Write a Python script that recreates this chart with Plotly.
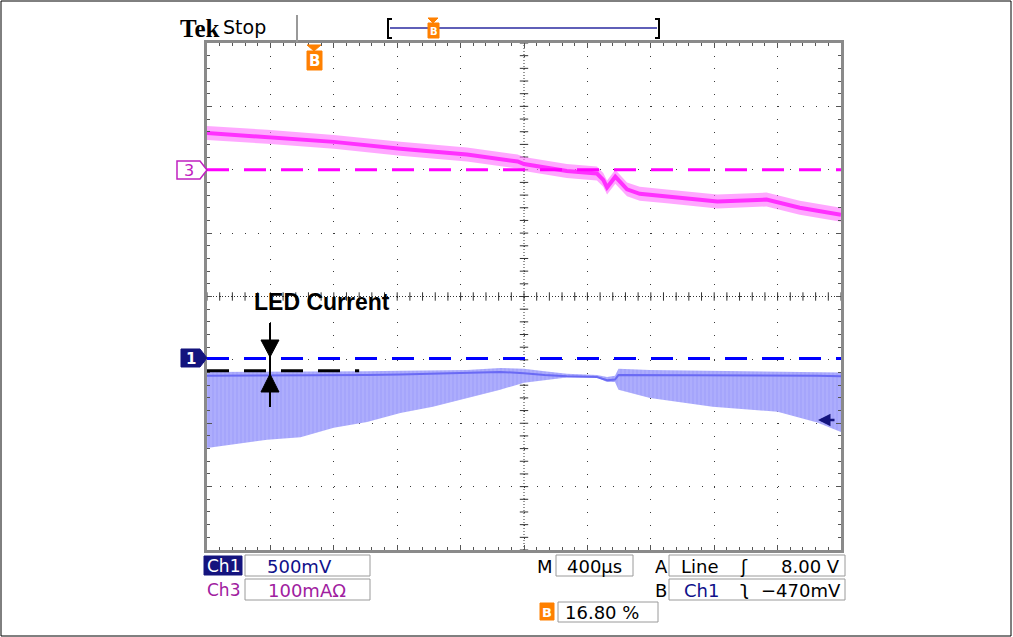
import numpy as np
import plotly.graph_objects as go

# ---------------- data (time in µs, amplitude in divisions) ----------------
ch3_t  = [-2000, -1620, -1200, -780, -360, -40, 0, 270, 460, 500, 524, 576, 650, 730, 900, 1220, 1530, 1740, 2000]
ch3_mid = [2.58, 2.52, 2.44, 2.33, 2.24, 2.13, 2.09, 1.98, 1.94, 1.84, 1.72, 1.89, 1.69, 1.62, 1.58, 1.50, 1.53, 1.40, 1.29]
ch3_hi  = [2.69, 2.63, 2.55, 2.44, 2.35, 2.24, 2.20, 2.09, 2.05, 1.95, 1.83, 2.00, 1.80, 1.73, 1.69, 1.61, 1.64, 1.51, 1.40]
ch3_lo  = [2.47, 2.41, 2.33, 2.22, 2.13, 2.02, 1.98, 1.87, 1.83, 1.73, 1.61, 1.78, 1.58, 1.51, 1.47, 1.39, 1.42, 1.29, 1.18]

ch1_t  = [-2000, -1620, -1410, -1200, -990, -780, -575, -360, -150, 0, 130, 270, 460, 524, 574, 596, 795, 1190, 1600, 1850, 2000]
ch1_hi = [-1.19, -1.19, -1.19, -1.18, -1.18, -1.17, -1.17, -1.16, -1.13, -1.14, -1.18, -1.22, -1.24, -1.27, -1.25, -1.14, -1.16, -1.17, -1.18, -1.19, -1.20]
ch1_lo = [-2.39, -2.26, -2.22, -2.07, -1.98, -1.84, -1.74, -1.60, -1.47, -1.36, -1.32, -1.28, -1.28, -1.35, -1.35, -1.47, -1.60, -1.74, -1.82, -1.99, -2.14]
ch1_dense = [-1.25, -1.25, -1.25, -1.24, -1.24, -1.23, -1.22, -1.21, -1.19, -1.21, -1.24, -1.26, -1.27, -1.32, -1.31, -1.24, -1.24, -1.25, -1.25, -1.25, -1.26]

ch3_ref = 2.0
ch1_ref = -0.98
meas_ref = -1.17
meas_end = -1040

x_range = [-2000, 2000]
y_range = [-4, 4]
x_div = 400
y_div = 1

# ---------------- layout geometry ----------------
FW, FH = 1013, 637
L, T, W, H = 207, 43, 634, 507


def PX(x):
    return (x - L) / W


def PY(y):
    return (T + H - y) / H


fig = go.Figure()

# graticule centre cross ticks
cx = np.arange(x_range[0], x_range[1] + 1, x_div / 5)
cy = np.arange(y_range[0], y_range[1] + 0.001, y_div / 5)
fig.add_trace(go.Scatter(x=cx, y=np.zeros_like(cx), mode="markers", hoverinfo="skip",
                         marker=dict(symbol="line-ns", size=6, line=dict(width=1, color="#333"))))
fig.add_trace(go.Scatter(x=np.zeros_like(cy), y=cy, mode="markers", hoverinfo="skip",
                         marker=dict(symbol="line-ew", size=6, line=dict(width=1, color="#333"))))

# Ch1 band
fig.add_trace(go.Scatter(x=ch1_t, y=ch1_hi, mode="lines", line=dict(width=0, color="#a5a5fb"), hoverinfo="skip"))
fig.add_trace(go.Scatter(x=ch1_t, y=ch1_lo, mode="lines", fill="tonexty", fillcolor="#a9a9fb",
                         fillpattern=dict(shape="|", fgcolor="#9191f8", bgcolor="#adadfc", size=4, solidity=0.3),
                         line=dict(width=0, color="#a5a5fb"), hoverinfo="skip"))
fig.add_trace(go.Scatter(x=ch1_t, y=ch1_dense, mode="lines", line=dict(width=2, color="#6a6af4"), hoverinfo="skip"))

# Ch3 band
fig.add_trace(go.Scatter(x=ch3_t, y=ch3_hi, mode="lines", line=dict(width=0, color="#ff90ff"), hoverinfo="skip"))
fig.add_trace(go.Scatter(x=ch3_t, y=ch3_lo, mode="lines", fill="tonexty", fillcolor="rgba(255,110,255,0.6)",
                         line=dict(width=0, color="#ff90ff"), hoverinfo="skip"))
fig.add_trace(go.Scatter(x=ch3_t, y=ch3_mid, mode="lines", line=dict(width=4, color="#ff30ff"), hoverinfo="skip"))

shapes = []
# centre dotted lines
shapes.append(dict(type="line", xref="x", yref="paper", x0=0, x1=0, y0=0, y1=1,
                   line=dict(color="#333", width=1, dash="1px,2px"), layer="below"))
shapes.append(dict(type="line", xref="paper", yref="y", x0=0, x1=1, y0=0, y1=0,
                   line=dict(color="#333", width=1, dash="1px,2px"), layer="below"))
# reference dashed lines
shapes.append(dict(type="line", xref="paper", yref="y", x0=0, x1=1, y0=ch3_ref, y1=ch3_ref,
                   line=dict(color="#ff00ff", width=3, dash="22px,15px")))
shapes.append(dict(type="line", xref="paper", yref="y", x0=0, x1=1, y0=ch1_ref, y1=ch1_ref,
                   line=dict(color="#0000ff", width=3, dash="22px,15px")))
shapes.append(dict(type="line", xref="x", yref="y", x0=x_range[0], x1=meas_end, y0=meas_ref, y1=meas_ref,
                   line=dict(color="#000000", width=3, dash="22px,15px")))


def ppath(pts):
    s = "M " + " L ".join(f"{PX(a):.5f},{PY(b):.5f}" for a, b in pts) + " Z"
    return s


def prect(x0, y0, x1, y1, **kw):
    d = dict(type="rect", xref="paper", yref="paper", x0=PX(x0), x1=PX(x1), y0=PY(y1), y1=PY(y0))
    d.update(kw)
    return d


def pline(x0, y0, x1, y1, color, width):
    return dict(type="line", xref="paper", yref="paper", x0=PX(x0), x1=PX(x1), y0=PY(y0), y1=PY(y1),
                line=dict(color=color, width=width))


# LED current arrows
shapes.append(pline(270, 323, 270, 407, "black", 2))
shapes.append(dict(type="path", xref="paper", yref="paper", path=ppath([(261, 340), (279, 340), (270, 357)]),
                   fillcolor="black", line=dict(color="black", width=1)))
shapes.append(dict(type="path", xref="paper", yref="paper", path=ppath([(261, 392), (279, 392), (270, 374)]),
                   fillcolor="black", line=dict(color="black", width=1)))

# channel markers
shapes.append(dict(type="path", xref="paper", yref="paper",
                   path=ppath([(177, 161), (200, 161), (207, 170), (200, 179), (177, 179)]),
                   fillcolor="white", line=dict(color="#c020c0", width=1.5)))
shapes.append(dict(type="path", xref="paper", yref="paper",
                   path=ppath([(181, 349), (200, 349), (207, 358), (200, 367), (181, 367)]),
                   fillcolor="#14147e", line=dict(color="#14147e", width=1)))

# trigger B marker in graticule
shapes.append(dict(type="path", xref="paper", yref="paper", path=ppath([(307, 45), (321, 45), (314, 51)]),
                   fillcolor="#ff8000", line=dict(color="#ff8000", width=1)))
shapes.append(prect(307, 51, 322, 70, fillcolor="#ff8000", line=dict(color="#ff8000", width=1)))

# top bar
shapes.append(pline(297, 15, 297, 42, "#999999", 2))
shapes.append(dict(type="path", xref="paper", yref="paper",
                   path=f"M {PX(392)},{PY(19)} L {PX(388)},{PY(19)} L {PX(388)},{PY(38)} L {PX(392)},{PY(38)}",
                   line=dict(color="black", width=2)))
shapes.append(dict(type="path", xref="paper", yref="paper",
                   path=f"M {PX(655)},{PY(19)} L {PX(659)},{PY(19)} L {PX(659)},{PY(38)} L {PX(655)},{PY(38)}",
                   line=dict(color="black", width=2)))
shapes.append(pline(390, 28, 657, 28, "#2a2aa0", 1.5))
shapes.append(dict(type="path", xref="paper", yref="paper", path=ppath([(428, 18), (438, 18), (433, 23)]),
                   fillcolor="#ff8000", line=dict(color="#ff8000", width=1)))
shapes.append(prect(428, 23, 439, 38, fillcolor="#ff8000", line=dict(color="#ff8000", width=1)))

# bottom readout boxes
box_line = dict(color="#9a9a9a", width=1)
shapes.append(prect(204, 556, 242, 575, fillcolor="#14147e", line=dict(color="#14147e", width=1)))
shapes.append(prect(245, 555, 370, 576, line=box_line))
shapes.append(prect(245, 579, 370, 600, line=box_line))
shapes.append(prect(556, 555, 633, 576, line=box_line))
shapes.append(prect(669, 555, 845, 576, line=box_line))
shapes.append(prect(669, 579, 845, 600, line=box_line))
shapes.append(prect(540, 603, 554, 620, fillcolor="#ff8000", line=dict(color="#ff8000", width=1)))
shapes.append(prect(558, 602, 658, 622, line=box_line))

# outer frame
shapes.append(dict(type="rect", xref="paper", yref="paper", x0=PX(1), x1=PX(1011), y0=PY(636), y1=PY(1),
                   line=dict(color="black", width=1)))

annotations = []
F = "DejaVu Sans"


def txt(x, y, s, size=18, color="black", anchor="left", family=F):
    annotations.append(dict(x=PX(x), y=PY(y), xref="paper", yref="paper", text=s, showarrow=False,
                            xanchor=anchor, yanchor="middle", font=dict(family=family, size=size, color=color)))


txt(178, 28, "<b>Tek</b>", size=25, family="Liberation Serif")
txt(221, 27, "Stop", size=19)
txt(433.5, 31, "<b>B</b>", size=10, color="white", anchor="center")
txt(314.5, 61, "<b>B</b>", size=15, color="white", anchor="center")
txt(322, 302, "<b>LED Current</b>", size=23, anchor="center", family="Liberation Sans")
txt(189, 170.5, "3", size=16, color="#c020c0", anchor="center")
txt(191, 358.5, "<b>1</b>", size=15, color="white", anchor="center")

txt(223, 566, "Ch1", size=17, color="white", anchor="center")
txt(265, 566, "500mV", size=18, color="#10108a")
txt(223, 590, "Ch3", size=17, color="#a020a0", anchor="center")
txt(266, 590, "100mA\u03a9", size=18, color="#a020a0")
txt(545, 566, "M", size=18, anchor="center")
txt(594.5, 566, "400\u00b5s", size=18, anchor="center")
txt(661, 566, "A", size=18, anchor="center")
txt(679, 566, "Line", size=18)
txt(744, 566, "\u0283", size=18, anchor="center")
txt(842, 566, "8.00 V", size=18, anchor="right")
txt(661, 590, "B", size=18, anchor="center")
txt(682, 590, "Ch1", size=18, color="#10108a")
txt(744, 588, "\u0285", size=20, anchor="center")
txt(843, 590, "\u2212470mV", size=18, anchor="right")
txt(547, 612, "<b>B</b>", size=13, color="white", anchor="center")
txt(563, 612, "16.80 %", size=18)

# small Ch1 arrow at the right edge
annotations.append(dict(x=PX(818), y=PY(420), xref="paper", yref="paper", text="", showarrow=True,
                        ax=18, ay=0, arrowhead=2, arrowsize=1, arrowwidth=2.5, arrowcolor="#14147e"))

axis_common = dict(showticklabels=False, zeroline=False, showgrid=True, gridcolor="#3a3a3a", gridwidth=1,
                   ticks="inside", ticklen=5, tickcolor="#555", tickwidth=1,
                   showline=True, linecolor="#8a8a8a", linewidth=3, mirror="ticks", fixedrange=True)

fig.update_layout(
    width=FW, height=FH,
    margin=dict(l=L, r=FW - L - W, t=T, b=FH - T - H, autoexpand=False),
    paper_bgcolor="white", plot_bgcolor="white", showlegend=False,
    xaxis=dict(range=x_range, dtick=x_div, tick0=0, griddash=f"1px,{W / 50 - 1:.2f}px",
               minor=dict(dtick=x_div / 5, ticks="inside", ticklen=3, tickcolor="#555", showgrid=False),
               **axis_common),
    yaxis=dict(range=y_range, dtick=y_div, tick0=0, griddash=f"1px,{H / 40 - 1:.2f}px",
               minor=dict(dtick=y_div / 5, ticks="inside", ticklen=3, tickcolor="#555", showgrid=False),
               **axis_common),
    shapes=shapes, annotations=annotations,
)

fig.write_html("out.html", config={"displayModeBar": False},
               post_script="document.body.style.margin='0px';document.body.style.overflow='hidden';")
